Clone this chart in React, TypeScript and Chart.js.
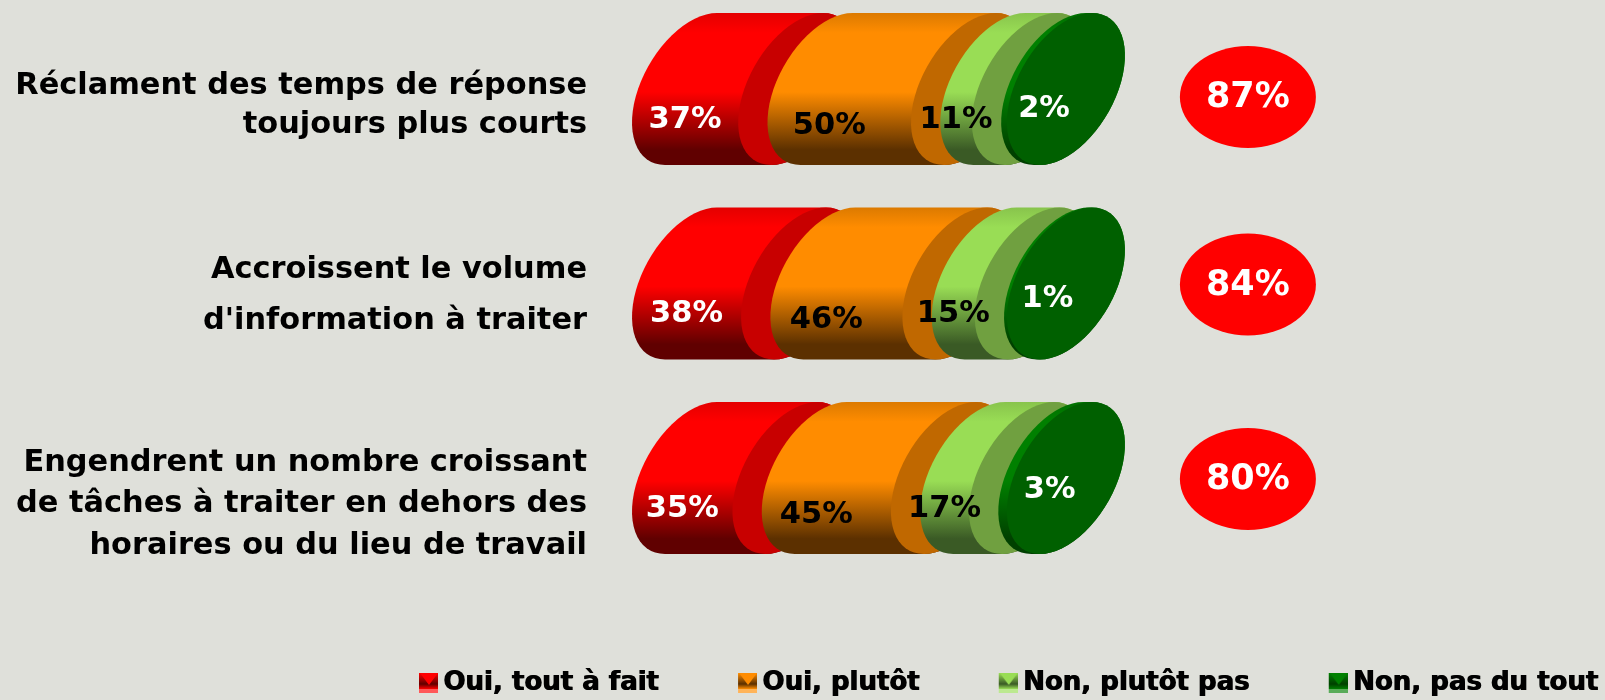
import React, { useEffect, useRef } from "react";
import { Chart, registerables } from "chart.js";

Chart.register(...registerables);

const categories = [
  "Réclament des temps de réponse toujours plus courts",
  "Accroissent le volume d'information à traiter",
  "Engendrent un nombre croissant de tâches à traiter en dehors des horaires ou du lieu de travail",
];
const categoryLines = [
  ["Réclament des temps de réponse", "toujours plus courts"],
  ["Accroissent le volume", "d'information à traiter"],
  ["Engendrent un nombre croissant", "de tâches à traiter en dehors des", "horaires ou du lieu de travail"],
];
const seriesNames = ["Oui, tout à fait", "Oui, plutôt", "Non, plutôt pas", "Non, pas du tout"];
const ouiToutAFait = [37, 38, 35];
const ouiPlutot = [50, 46, 45];
const nonPlutotPas = [11, 15, 17];
const nonPasDuTout = [2, 1, 3];
const totals = [87, 84, 80];

const BG = "#dfe0da";
const WIDTH = 1605;
const HEIGHT = 700;
const PX_PER_UNIT = 2.87;
const ZERO_PX = 632;
const GAP = 29.3;
const HALF_W = 59;
const SKEW = 26;
const INNER_W = Math.sqrt(HALF_W * HALF_W - SKEW * SKEW);
const BUBBLE_VALUE = 214.6;
const LEFT_TEXT_X = 587;
const FONT = '"DejaVu Sans", Verdana, sans-serif';

const styles = [
  { main: "#ff0000", dark: "#600000", top: "#e40000", cap: "#c80000", text: "#ffffff", dx: 0, dy: 31 },
  { main: "#ff8c00", dark: "#5c3000", top: "#dc7a00", cap: "#c06800", text: "#000000", dx: -10, dy: 37 },
  { main: "#99dd55", dark: "#3a5a25", top: "#88c44c", cap: "#70a040", text: "#000000", dx: 0, dy: 31 },
  { main: "#008000", dark: "#004000", top: "#007000", cap: "#006000", text: "#ffffff", dx: 42, dy: 16 },
];
const lastLabelNudge = [
  { dx: -2, dy: 4 },
  { dx: 0, dy: 0 },
  { dx: 5, dy: -4 },
];
const lineOffsets = [
  [-3, 36],
  [-13.5, 37.5],
  [-15, 26, 68],
];

function markerCanvas(main: string, dark: string): HTMLCanvasElement {
  const c = document.createElement("canvas");
  c.width = 32;
  c.height = 20;
  const g = c.getContext("2d")!;
  const grad = g.createLinearGradient(0, 0, 0, 20);
  grad.addColorStop(0, main);
  grad.addColorStop(0.55, dark);
  grad.addColorStop(0.8, main);
  grad.addColorStop(1, main);
  g.fillStyle = grad;
  g.fillRect(14, 0, 18, 20);
  g.fillStyle = main;
  g.beginPath();
  g.moveTo(14, 0);
  g.lineTo(32, 0);
  g.lineTo(23, 12);
  g.closePath();
  g.fill();
  g.fillStyle = "rgba(255,255,255,0.35)";
  g.fillRect(14, 16, 18, 4);
  return c;
}

function drawCylinders(chart: any) {
  const ctx: CanvasRenderingContext2D = chart.ctx;
  const count = chart.data.datasets.length;
  for (let d = 0; d < count; d++) {
    const meta = chart.getDatasetMeta(d);
    const st = styles[d];
    meta.data.forEach((el: any) => {
      const left = Math.min(el.base, el.x) + d * GAP + HALF_W;
      const right = Math.max(el.base, el.x) + d * GAP + HALF_W;
      const v = el.height / 2;
      const cy = el.y;
      const grad = ctx.createLinearGradient(0, cy - v, 0, cy + v);
      grad.addColorStop(0, st.top);
      grad.addColorStop(0.13, st.main);
      grad.addColorStop(0.52, st.main);
      grad.addColorStop(0.9, st.dark);
      grad.addColorStop(1, st.dark);
      ctx.save();
      ctx.translate(0, cy);
      ctx.transform(1, 0, -SKEW / v, 1, 0, 0);
      ctx.beginPath();
      ctx.ellipse(left, 0, INNER_W, v, 0, Math.PI / 2, (3 * Math.PI) / 2);
      ctx.ellipse(right, 0, INNER_W, v, 0, -Math.PI / 2, Math.PI / 2);
      ctx.closePath();
      ctx.setTransform(1, 0, 0, 1, 0, 0);
      ctx.fillStyle = grad;
      ctx.fill();
      ctx.restore();
      ctx.save();
      ctx.translate(0, cy);
      ctx.transform(1, 0, -SKEW / v, 1, 0, 0);
      ctx.beginPath();
      ctx.ellipse(right, 0, INNER_W, v, 0, 0, Math.PI * 2);
      ctx.fillStyle = st.cap;
      ctx.fill();
      ctx.restore();
    });
  }
  // value labels
  ctx.font = `bold 30.5px ${FONT}`;
  ctx.textAlign = "center";
  ctx.textBaseline = "middle";
  for (let d = 0; d < count; d++) {
    const meta = chart.getDatasetMeta(d);
    const st = styles[d];
    meta.data.forEach((el: any, i: number) => {
      const nudge = d === count - 1 ? lastLabelNudge[i] : { dx: 0, dy: 0 };
      const mid = (el.base + el.x) / 2 + d * GAP + st.dx + nudge.dx;
      ctx.fillStyle = st.text;
      ctx.fillText(`${chart.data.datasets[d].data[i]}%`, mid, el.y + st.dy + nudge.dy);
    });
  }
  // totals and category text
  const xs = chart.scales.x;
  const ys = chart.scales.y;
  totals.forEach((t, i) => {
    const cy = ys.getPixelForTick(i) + (i === 0 ? 8 : 1);
    const cx = xs.getPixelForValue(BUBBLE_VALUE);
    ctx.beginPath();
    ctx.ellipse(cx, cy, 68, 51, 0, 0, Math.PI * 2);
    ctx.fillStyle = "#ff0000";
    ctx.fill();
    ctx.fillStyle = "#ffffff";
    ctx.font = `bold 35px ${FONT}`;
    ctx.textAlign = "center";
    ctx.fillText(`${t}%`, cx, cy + 1);
  });
  ctx.font = `bold 30.4px ${FONT}`;
  ctx.textAlign = "right";
  ctx.fillStyle = "#000000";
  categoryLines.forEach((lines, i) => {
    const cy = ys.getPixelForTick(i);
    lines.forEach((line, j) => ctx.fillText(line, LEFT_TEXT_X, cy + lineOffsets[i][j]));
  });
}

const cylinderPlugin = {
  id: "cylinders",
  afterLayout(chart: any) {
    const lg = chart.legend;
    if (lg) {
      const lw = lg.lineWidths[0];
      lg.left = 0;
      lg.right = 412 + lw;
      lg.top = 597.5;
      lg.bottom = HEIGHT;
      lg.width = lg.right;
      lg.height = lg.bottom - lg.top;
    }
  },
  beforeDatasetsDraw(chart: any) {
    drawCylinders(chart);
  },
  beforeDatasetDraw() {
    return false;
  },
  afterDraw(chart: any) {
    // the reference's legend text is smeared heavier than a plain bold face
    const lg = chart.legend;
    if (lg) {
      lg.right += 1;
      lg.width += 1;
      lg.draw();
      lg.right -= 1;
      lg.width -= 1;
    }
  },
};

export default function App() {
  const ref = useRef<HTMLCanvasElement | null>(null);
  useEffect(() => {
    document.body.style.margin = "0";
    document.body.style.background = BG;
    const series = [ouiToutAFait, ouiPlutot, nonPlutotPas, nonPasDuTout];
    const chart = new Chart(ref.current!, {
      type: "bar",
      data: {
        labels: categories,
        datasets: series.map((data, i) => ({
          label: seriesNames[i],
          data,
          backgroundColor: styles[i].main,
          barThickness: 152,
        })),
      },
      options: {
        indexAxis: "y",
        animation: false,
        responsive: false,
        maintainAspectRatio: false,
        layout: { padding: { top: 89, bottom: 113.5, left: 0, right: 0 } },
        scales: {
          x: {
            stacked: true,
            display: false,
            min: -ZERO_PX / PX_PER_UNIT,
            max: (WIDTH - ZERO_PX) / PX_PER_UNIT,
          },
          y: { stacked: true, display: false, offset: false },
        },
        plugins: {
          tooltip: { enabled: false },
          legend: {
            position: "bottom",
            align: "end",
            labels: {
              color: "#000000",
              font: { family: FONT, weight: "bold", size: 26 },
              padding: 72.5,
              usePointStyle: true,
              boxHeight: 20,
              pointStyleWidth: 18,
              generateLabels: () =>
                seriesNames.map((text, i) => ({
                  text,
                  fontColor: "#000000",
                  pointStyle: markerCanvas(styles[i].main, styles[i].dark),
                  datasetIndex: i,
                })) as any,
            },
          },
        },
      },
      plugins: [cylinderPlugin],
    } as any);
    return () => chart.destroy();
  }, []);
  return (
    <div style={{ width: WIDTH, height: HEIGHT, background: BG, overflow: "hidden" }}>
      <canvas ref={ref} width={WIDTH} height={HEIGHT} style={{ display: "block" }} />
    </div>
  );
}
